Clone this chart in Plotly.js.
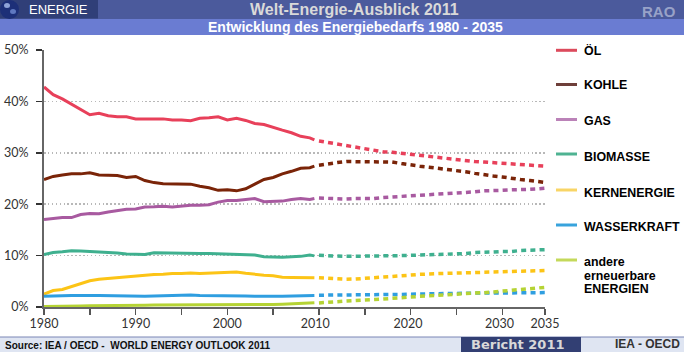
<!DOCTYPE html>
<html><head><meta charset="utf-8">
<script src="https://cdn.plot.ly/plotly-3.0.1.min.js"></script>
<style>html,body{margin:0;padding:0;background:#fff}#c{width:684px;height:352px}</style>
</head><body><div id="c"></div>
<script>
const histYears=[1980,1981,1982,1983,1984,1985,1986,1987,1988,1989,1990,1991,1992,1993,1994,1995,1996,1997,1998,1999,2000,2001,2002,2003,2004,2005,2006,2007,2008,2009,2009.5];
const projYears=[2010,2011,2012,2013,2014,2015,2016,2017,2018,2019,2020,2021,2022,2023,2024,2025,2026,2027,2028,2029,2030,2031,2032,2033,2034,2034.66];

const oilHist=[42.8,41.3,40.5,39.5,38.5,37.4,37.7,37.2,37.0,37.0,36.6,36.6,36.7,36.6,36.4,36.4,36.25,36.7,36.8,37.0,36.4,36.7,36.3,35.7,35.5,34.9,34.4,33.9,33.2,32.9,32.5];
const coalHist=[24.8,25.4,25.7,25.9,25.9,26.1,25.7,25.7,25.6,25.2,25.4,24.6,24.2,24.0,24.0,24.0,23.9,23.5,23.2,22.7,22.8,22.6,23.0,23.9,24.8,25.2,25.9,26.4,27.0,27.1,27.4];
const gasHist=[17.0,17.2,17.4,17.4,18.0,18.2,18.15,18.5,18.7,19.0,19.05,19.45,19.5,19.6,19.45,19.65,19.8,19.8,19.9,20.4,20.7,20.7,20.9,21.1,20.5,20.6,20.6,20.9,21.1,20.9,21.1];
const bioHist=[10.2,10.6,10.75,10.95,10.9,10.8,10.75,10.7,10.5,10.3,10.3,10.2,10.55,10.5,10.5,10.5,10.4,10.4,10.4,10.35,10.3,10.2,10.2,10.1,9.8,9.75,9.7,9.8,9.85,10.1,9.95];
const nucHist=[2.5,3.2,3.4,3.95,4.5,5.1,5.4,5.55,5.8,5.9,6.0,6.2,6.3,6.35,6.5,6.5,6.6,6.5,6.6,6.7,6.75,6.8,6.55,6.35,6.2,6.1,5.8,5.75,5.7,5.7,5.7];
const hydHist=[2.07,2.07,2.2,2.26,2.33,2.26,2.26,2.2,2.13,2.13,2.07,2.07,2.13,2.2,2.26,2.26,2.33,2.26,2.26,2.2,2.2,2.13,2.13,2.07,2.0,2.07,2.07,2.13,2.2,2.26,2.26];
const renHist=[0.1,0.1,0.15,0.2,0.2,0.25,0.25,0.3,0.3,0.3,0.35,0.35,0.4,0.4,0.4,0.45,0.45,0.45,0.5,0.5,0.5,0.5,0.5,0.5,0.5,0.5,0.55,0.6,0.7,0.8,0.85];

const oilProj=[32.3,32.0,31.7,31.45,31.2,30.9,30.5,30.2,30.1,29.9,29.6,29.4,29.2,29.0,28.8,28.6,28.5,28.3,28.2,28.1,28.0,27.9,27.8,27.7,27.6,27.4];
const coalProj=[27.56,27.9,28.1,28.3,28.3,28.3,28.3,28.3,28.2,27.9,27.6,27.4,27.2,27.0,26.8,26.5,26.3,26.0,25.7,25.5,25.3,25.0,24.8,24.6,24.4,24.25];
const gasProj=[21.2,21.1,21.0,21.0,21.1,21.1,21.1,21.3,21.4,21.5,21.6,21.7,21.85,22.0,22.1,22.2,22.3,22.4,22.6,22.6,22.7,22.8,22.8,22.9,23.0,23.1];
const bioProj=[10.05,9.9,9.9,9.85,9.85,9.9,9.85,9.85,9.9,10.0,10.05,10.1,10.2,10.2,10.3,10.4,10.4,10.6,10.6,10.7,10.8,10.8,11.0,11.0,11.1,11.15];
const nucProj=[5.7,5.55,5.45,5.4,5.45,5.55,5.7,5.75,5.9,6.0,6.2,6.35,6.5,6.5,6.55,6.6,6.65,6.7,6.8,6.85,6.9,6.9,7.0,7.05,7.1,7.1];
const hydProj=[2.3,2.3,2.3,2.35,2.35,2.35,2.4,2.4,2.45,2.45,2.5,2.55,2.6,2.6,2.65,2.65,2.65,2.7,2.7,2.7,2.75,2.75,2.75,2.75,2.8,2.8];
const renProj=[0.8,0.83,1.03,1.16,1.22,1.35,1.42,1.55,1.68,1.74,1.94,2.07,2.2,2.33,2.39,2.45,2.58,2.71,2.78,2.91,3.04,3.23,3.36,3.49,3.62,3.82];

const names=['ÖL','KOHLE','GAS','BIOMASSE','KERNENERGIE','WASSERKRAFT','andere erneuerbare ENERGIEN'];
const otherLines=['andere','erneuerbare','ENERGIEN'];
const lineColors=['#e8405a','#7a2408','#a85aa0','#3fb08f','#fcc416','#2f9ee0','#b5d334'];
const keyColors=['#dc4a5c','#6e3f3a','#bb82b8','#4fb392','#f8d566','#38a3dc','#c4d95a'];
const hist=[oilHist,coalHist,gasHist,bioHist,nucHist,hydHist,renHist];
const proj=[oilProj,coalProj,gasProj,bioProj,nucProj,hydProj,renProj];
const yTickVals=[0,10,20,30,40,50];
const yTickText=['0%','10%','20%','30%','40%','50%'];
const xRange=[1980,2034.66];
const xMarkVals=[1980,1985,1990,1995,2000,2005,2010,2015,2020,2025,2030,2034.66];
const xLabelVals=[1980,1990,2000,2009.6,2019.7,2029.7,2034.66];
const xLabelText=['1980','1990','2000','2010','2020','2030','2035'];

const traces=[];
names.forEach((n,i)=>{
  traces.push({type:'scatter',mode:'lines',x:histYears,y:hist[i],name:n,showlegend:false,hoverinfo:'skip',cliponaxis:false,
    line:{color:lineColors[i],width:3,shape:'linear'}});
  traces.push({type:'scatter',mode:'lines',xaxis:'x2',x:projYears,y:proj[i],name:n+' proj',showlegend:false,hoverinfo:'skip',cliponaxis:false,
    line:{color:lineColors[i],width:3.5,dash:'5px,4.2px'}});
});

const L=44,W=501,T=50,H=257;
const px=v=>(v-L)/W, py=v=>(T+H-v)/H;
const rect=(x0,y0,x1,y1,fill)=>({type:'rect',xref:'paper',yref:'paper',x0:px(x0),x1:px(x1),y0:py(y0),y1:py(y1),fillcolor:fill,line:{width:0},layer:'above'});
const hline=(x0,x1,y,c,w)=>({type:'line',xref:'paper',yref:'paper',x0:px(x0),x1:px(x1),y0:py(y),y1:py(y),line:{color:c,width:w},layer:'above'});
const circ=(x0,y0,x1,y1,fill)=>({type:'circle',xref:'paper',yref:'paper',x0:px(x0),x1:px(x1),y0:py(y0),y1:py(y1),fillcolor:fill,line:{width:0},layer:'above'});
const txt=(x,y,text,size,color,anchor,bold,family)=>({xref:'paper',yref:'paper',x:px(x),y:py(y),text:bold?'<b>'+text+'</b>':text,showarrow:false,
  xanchor:anchor,yanchor:'middle',align:'left',font:{family:family||'Liberation Sans',size:size,color:color}});

const keyY=[50.3,84.5,119.5,154,190,225,260];
const shapes=[
  rect(0,0,684,19,'#4b5a9c'),
  rect(0,19,684,35,'#6a7cd2'),
  rect(0,0,98,18.5,'#303f78'),
  circ(0,0,19,19,'#1d2f78'),
  circ(4,3,10,8,'#8fa3d8'),
  circ(10,9,16,14,'#5f78c0'),
  rect(0,337,684,352,'#dfe5f2'),
  hline(0,684,337,'#7a86b5',1),
  rect(461,337,581,352,'#323f73')
];
keyY.forEach((y,i)=>shapes.push(hline(556,577,y,keyColors[i],3)));

const annotations=[
  txt(26.5,9.5,'ENERGIE',13,'#ffffff','left',false),
  txt(354,9.5,'Welt-Energie-Ausblick 2011',16,'#d9d9d9','center',true),
  txt(355.5,27,'Entwicklung des Energiebedarfs 1980 - 2035',14,'#ffffff','center',true),
  txt(659,11.5,'RAO',15,'#98a2c8','center',true),
  txt(3,345,'Source: IEA / OECD -  WORLD ENERGY OUTLOOK 2011',10,'#111111','left',true),
  txt(517.5,344,'Bericht 2011',13,'#d9d9d9','center',true,'DejaVu Sans'),
  txt(647.5,344,'IEA - OECD',12,'#333333','center',true)
];
const labelY=[50.3,85.5,120.5,156.5,192.5,226.5];
names.slice(0,6).forEach((n,i)=>annotations.push(txt(582,labelY[i],n,12.4,'#000000','left',true)));
const otherY=[262,276,289];
otherLines.forEach((n,i)=>annotations.push(txt(582,otherY[i],n,12.4,'#000000','left',true)));

Plotly.newPlot('c',traces,{
  width:684,height:352,autosize:false,paper_bgcolor:'#ffffff',plot_bgcolor:'#ffffff',showlegend:false,
  margin:{l:L,r:684-L-W,t:T,b:352-T-H,pad:0},
  font:{family:'Lato',color:'#333333'},
  xaxis:{range:xRange,tickmode:'array',tickvals:xMarkVals,ticks:'outside',ticklen:6,tickwidth:1.5,tickcolor:'#555555',showticklabels:false,
    showgrid:false,zeroline:false,showline:true,linecolor:'#666666',linewidth:1.5},
  xaxis2:{range:xRange,overlaying:'x',side:'bottom',anchor:'y',tickmode:'array',tickvals:xLabelVals,ticktext:xLabelText,ticks:'',
    showgrid:false,zeroline:false,showline:false,tickfont:{family:'Lato',size:12.5,color:'#333333'},ticklabelstandoff:7,tickangle:0},
  yaxis:{range:[0,50],tickmode:'array',tickvals:yTickVals,ticktext:yTickText,ticks:'outside',ticklen:6,tickwidth:1.5,tickcolor:'#333333',
    showgrid:true,gridcolor:'#b8b8b8',gridwidth:1.5,griddash:'1.5px,2.4px',zeroline:false,showline:true,linecolor:'#666666',linewidth:2,
    tickfont:{family:'Lato',size:12.5,color:'#333333'},ticklabelstandoff:5},
  shapes:shapes,annotations:annotations
},{displayModeBar:false,staticPlot:true});
</script></body></html>
